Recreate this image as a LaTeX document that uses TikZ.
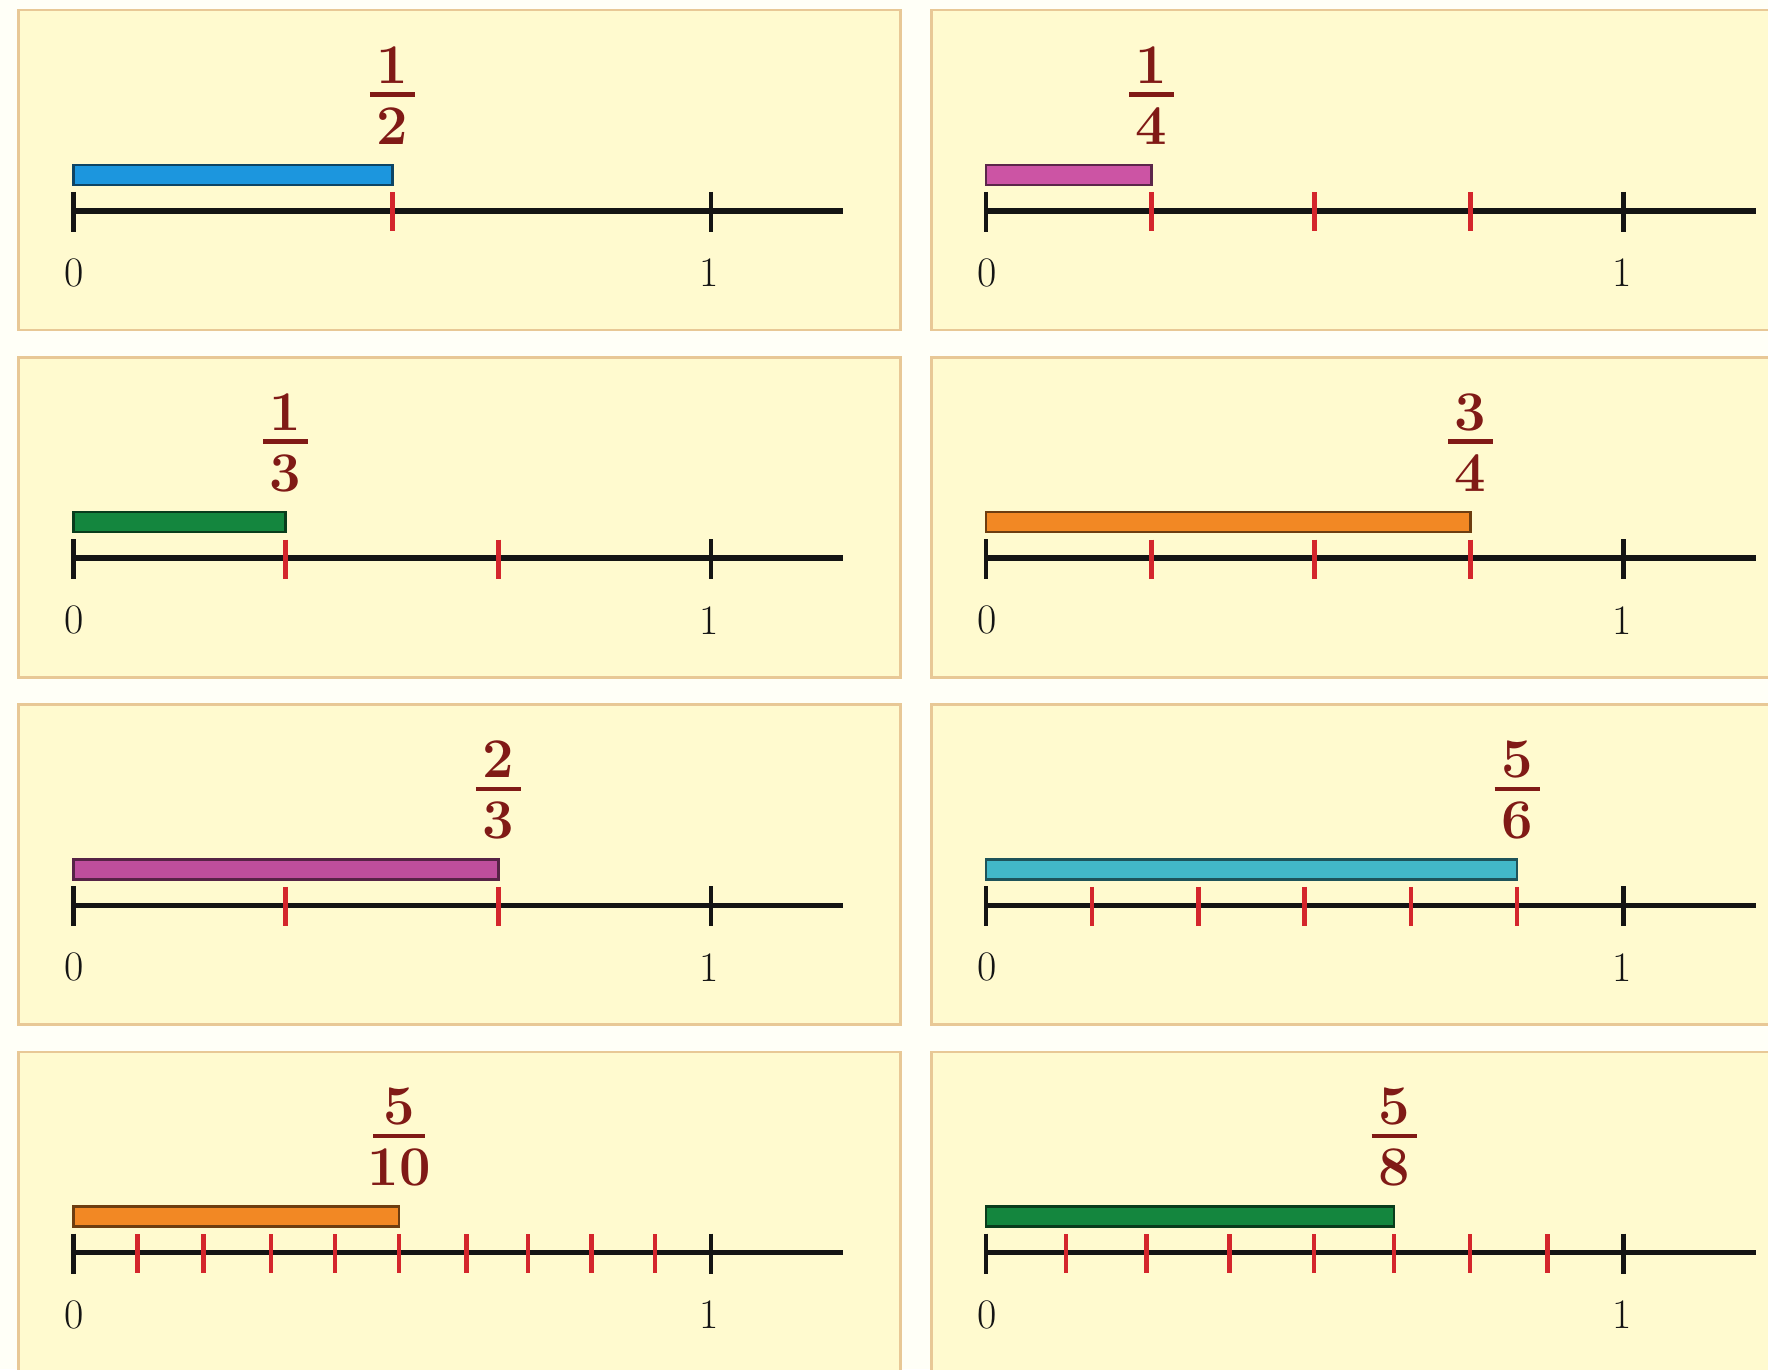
\documentclass[tikz,border=0pt]{standalone}
\usepackage{fontspec}

\definecolor{paper}{RGB}{255,250,207}
\definecolor{paperedge}{RGB}{232,200,150}
\definecolor{fracred}{RGB}{128,26,22}
\definecolor{tickred}{RGB}{212,38,44}
\definecolor{axisblack}{RGB}{20,20,20}
\definecolor{barblue}{RGB}{28,150,222}
\definecolor{barpink}{RGB}{204,84,164}
\definecolor{bargreen}{RGB}{20,134,62}
\definecolor{barorange}{RGB}{242,136,36}
\definecolor{barplum}{RGB}{190,78,156}
\definecolor{barcyan}{RGB}{66,184,200}

\tikzset{
  panelbox/.style={draw=paperedge, fill=paper, line width=2.5pt, inner sep=0pt,
                   minimum width=882pt, minimum height=320pt, anchor=north west},
  axisline/.style={draw=axisblack, line width=5.5pt},
  blacktick/.style={draw=axisblack, line width=4.5pt},
  redtick/.style={draw=tickred, line width=4.5pt},
  fracrule/.style={draw=fracred, line width=4.5pt},
  numtext/.style={text=fracred, font=\fontsize{56}{60}\selectfont\bfseries, inner sep=0pt},
  axislabel/.style={text=axisblack, font=\fontsize{42}{46}\selectfont, inner sep=0pt}
}

% #1 tag, #2 x of 0, #3 y of the axis, #4 bar colour,
% #5 numerator, #6 denominator, #7 x where the bar ends,
% #8 x positions of the red division ticks, #9 half width of the fraction rule
\newcommand{\fracpanel}[9]{%
  \node[panelbox] (#1-panel) at (#2-56,#3-202) {};
  \draw[axisline] (#2,#3) -- (#2+770,#3);
  \foreach \t in {#8} \draw[redtick] (\t,#3-18.5) -- (\t,#3+20.5);
  \draw[blacktick] (#2,#3-19) -- (#2,#3+21);
  \draw[blacktick] (#2+637.5,#3-19) -- (#2+637.5,#3+21);
  \draw[fill=#4, draw=#4!45!black, line width=2.5pt] (#2,#3-46) rectangle (#7,#3-26);
  \node[numtext] (#1-num) at (#7,#3-146) {#5};
  \node[numtext] (#1-den) at (#7,#3-85) {#6};
  \draw[fracrule] (#7-#9,#3-116.5) -- (#7+#9,#3-116.5);
  \node[axislabel] (#1-zero) at (#2+1,#3+62) {0};
  \node[axislabel] (#1-one) at (#2+636,#3+62) {1};
}

\begin{document}
\begin{tikzpicture}[x=1pt, y=-1pt]
  \useasboundingbox (0,0) rectangle (1768,1369);
  \clip (0,0) rectangle (1768,1369);
  \fill[white!97!yellow] (0,0) rectangle (1768,1369);

  % row 1
  \fracpanel{half}{73.3}{210.9}{barblue}{1}{2}{392.3}{392.3}{22.5}
  \fracpanel{quarter}{986}{210.9}{barpink}{1}{4}{1151.5}{1151.5,1314.5,1470.5}{22.5}
  % row 2
  \fracpanel{third}{73.3}{558.2}{bargreen}{1}{3}{285.7}{285.7,498.3}{22.5}
  \fracpanel{threequarters}{986}{558.2}{barorange}{3}{4}{1470.5}{1151.5,1314.5,1470.5}{22.5}
  % row 3
  \fracpanel{twothirds}{73.3}{905.4}{barplum}{2}{3}{498.3}{285.7,498.3}{22.5}
  \fracpanel{fivesixths}{986}{905.4}{barcyan}{5}{6}{1517.2}{1092.2,1198.4,1304.7,1410.9,1517.2}{22.5}
  % row 4
  \fracpanel{fivetenths}{73.3}{1252.7}{barorange}{5}{10}{399}{137.7,203.3,271,335,399,466.7,528,591.7,655}{26}
  \fracpanel{fiveeighths}{986}{1252.7}{bargreen}{5}{8}{1394}{1066,1146.7,1229.3,1314,1394,1470,1547.3}{22.5}
\end{tikzpicture}
\end{document}
